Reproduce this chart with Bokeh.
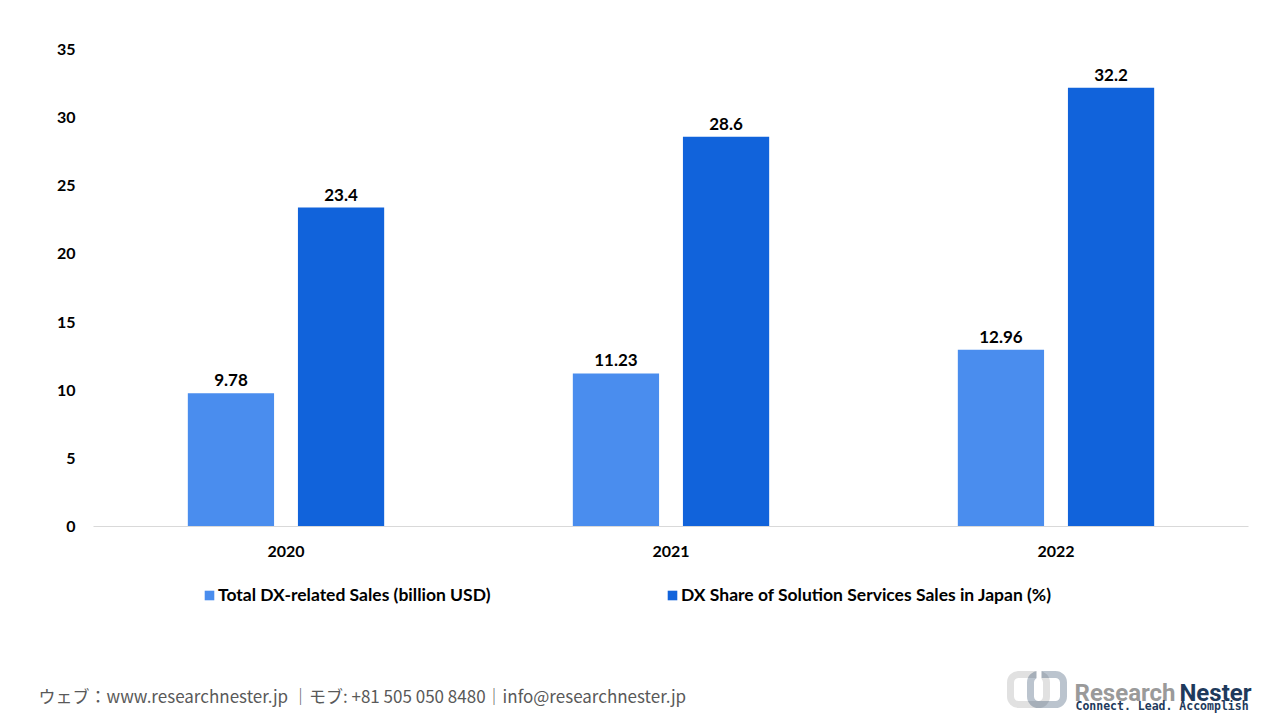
from bokeh.plotting import figure
from bokeh.layouts import column, row
from bokeh.models import (ColumnDataSource, Range1d, FactorRange, LabelSet, Legend, LegendItem,
                          Label, BoxAnnotation)
from bokeh.core.properties import value
from bokeh.transform import dodge
from bokeh.embed import file_html
from bokeh.resources import INLINE

years = ["2020", "2021", "2022"]
total_dx_sales = [9.78, 11.23, 12.96]
dx_share = [23.4, 28.6, 32.2]
series_names = ["Total DX-related Sales (billion USD)",
                "DX Share of Solution Services Sales in Japan (%)"]
y_ticks = [0, 5, 10, 15, 20, 25, 30, 35]
footer_text = "ウェブ：www.researchnester.jp ｜モブ: +81 505 050 8480｜info@researchnester.jp"

LIGHT = "#4A8DEE"
DARK = "#1163DB"
NAVY = "#1E3A5C"
GREY = "#9A9A9A"
FONT = "Lato"
W_TOTAL = 1280
H_MAIN = 575
H_FOOT = 140

src = ColumnDataSource(dict(
    year=years,
    total=total_dx_sales,
    share=dx_share,
    total_lbl=[f"{v:g}" for v in total_dx_sales],
    share_lbl=[f"{v:g}" for v in dx_share],
))

p = figure(width=W_TOTAL, height=H_MAIN, x_range=FactorRange(*years, range_padding=0),
           y_range=Range1d(0, 35), output_backend="svg", toolbar_location=None,
           min_border_left=93, min_border_right=32, min_border_top=49,
           min_border_bottom=H_MAIN - 526)
p.outline_line_color = None
p.xgrid.grid_line_color = None
p.ygrid.grid_line_color = None

OFF = 0.143
W = 0.224
r1 = p.vbar(x=dodge("year", -OFF, range=p.x_range), top="total", width=W, source=src,
            fill_color=LIGHT, line_color=None)
r2 = p.vbar(x=dodge("year", OFF, range=p.x_range), top="share", width=W, source=src,
            fill_color=DARK, line_color=None)

for col, lbl, off in [("total", "total_lbl", -OFF), ("share", "share_lbl", OFF)]:
    p.add_layout(LabelSet(x=dodge("year", off, range=p.x_range), y=col, text=lbl, source=src,
                          y_offset=7, text_align="center", text_baseline="bottom",
                          text_font=value(FONT), text_font_style="bold",
                          text_font_size="17px", text_color="black"))

p.yaxis.ticker = y_ticks
p.yaxis.axis_line_color = None
p.yaxis.major_tick_line_color = None
p.yaxis.minor_tick_line_color = None
p.yaxis.major_label_standoff = 12
p.yaxis.major_label_text_font = FONT
p.yaxis.major_label_text_font_style = "bold"
p.yaxis.major_label_text_font_size = "16px"
p.yaxis.major_label_text_color = "black"

p.xaxis.axis_line_color = "#D9D9D9"
p.xaxis.axis_line_width = 1
p.xaxis.major_tick_line_color = None
p.xaxis.minor_tick_line_color = None
p.xaxis.major_label_standoff = 13
p.xaxis.major_label_text_font = FONT
p.xaxis.major_label_text_font_style = "bold"
p.xaxis.major_label_text_font_size = "16px"
p.xaxis.major_label_text_color = "black"

# footer figure: legend, contact line and logo (x = page px, y measured from footer top in px)
f = figure(width=W_TOTAL, height=H_FOOT, x_range=Range1d(0, W_TOTAL), y_range=Range1d(H_FOOT, 0),
           output_backend="svg", toolbar_location=None, x_axis_location=None,
           y_axis_location=None, min_border=0)
f.outline_line_color = None
f.xgrid.grid_line_color = None
f.ygrid.grid_line_color = None

# hidden key renderers (share the chart's data) that give the legend its swatches
k1 = f.vbar(x="total", top="total", width=0, source=src, fill_color=LIGHT, line_color=None,
            visible=False)
k2 = f.vbar(x="share", top="share", width=0, source=src, fill_color=DARK, line_color=None,
            visible=False)
Y0 = H_MAIN
for r, name, lx in [(k1, series_names[0], 203), (k2, series_names[1], 666)]:
    f.add_layout(Legend(items=[LegendItem(label=name, renderers=[r])],
                        location=(lx, H_FOOT - (605 - Y0)), orientation="horizontal",
                        padding=0, margin=0, border_line_color=None, background_fill_alpha=0,
                        inactive_fill_alpha=0, glyph_width=12, glyph_height=12,
                        label_standoff=3, label_height=20,
                        label_text_font=FONT, label_text_font_style="bold",
                        label_text_font_size="17.5px", label_text_color="black"))

f.add_layout(Label(x=38, y=695 - Y0, text=footer_text, text_baseline="middle",
                   text_align="left", text_font="Noto Sans CJK JP", text_font_size="17px",
                   text_color="#595959"))

# logo
f.add_layout(BoxAnnotation(left=1010, right=1046, top=674 - Y0, bottom=704 - Y0, fill_alpha=0,
                           line_color=GREY, line_width=7, border_radius=8))
f.add_layout(BoxAnnotation(left=1030, right=1063, top=674 - Y0, bottom=704 - Y0, fill_alpha=0,
                           line_color=NAVY, line_width=7, border_radius=8))
f.add_layout(BoxAnnotation(left=1036, right=1041, top=668 - Y0, bottom=692 - Y0,
                           fill_color="white", fill_alpha=1, line_color=None))
f.add_layout(Label(x=1074, y=692 - Y0, text="Research", text_baseline="alphabetic",
                   text_font="Roboto", text_font_style="bold",
                   text_font_size="24px", text_color=GREY))
f.add_layout(Label(x=1251, y=692 - Y0, text="Nester", text_align="right",
                   text_baseline="alphabetic", text_font="Roboto",
                   text_font_style="bold", text_font_size="24px", text_color=NAVY))
f.add_layout(Label(x=1075, y=705 - Y0, text="Connect. Lead. Accomplish",
                   text_baseline="middle", text_font="DejaVu Sans Mono",
                   text_font_style="bold", text_font_size="11.5px", text_color=NAVY))

open("out.html", "w").write(file_html(column(p, row(f)), INLINE))
